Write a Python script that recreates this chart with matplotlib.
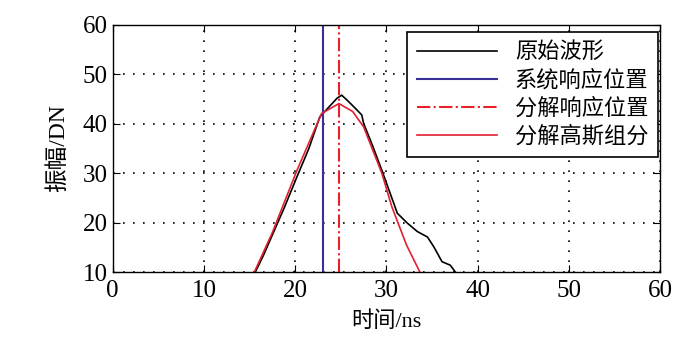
import matplotlib
matplotlib.use("Agg")
import matplotlib.pyplot as plt

plt.rcParams['font.family'] = ['Liberation Serif', 'Noto Sans CJK SC']

# raw waveform (ns, DN)
wave_t = [15.6, 16.5, 17.4, 18.8, 20.2, 21.5, 22.7, 23.8, 24.6, 25.1, 25.8,
          26.4, 27.3, 27.5, 28.5, 29.5, 30.4, 31.2, 32.3, 33.4, 34.5,
          35.2, 36.1, 37.0, 37.6]
wave_a = [9.9, 13.3, 17.1, 23.0, 29.3, 35.0, 41.4, 43.6, 45.2, 45.8, 44.6,
          43.5, 41.8, 40.1, 35.5, 30.6, 26.0, 21.9, 19.9, 18.2, 17.1,
          15.1, 12.1, 11.4, 9.9]

# decomposed gaussian component
gauss_t = [15.5, 17.5, 20.2, 22.9, 24.8, 26.3, 27.5, 29.5, 30.6, 32.2, 33.7]
gauss_a = [9.9, 18.0, 30.6, 42.1, 44.1, 42.5, 39.4, 30.0, 23.2, 15.5, 9.9]

sys_pos = 23.1
dec_pos = 24.8

fig = plt.figure(figsize=(7, 3.52), dpi=100)
ax = fig.add_axes([0.161, 0.227, 0.782, 0.702])

ax.plot(wave_t, wave_a, color='black', lw=1.2, label='原始波形')
ax.axvline(sys_pos, color='#3a2f94', lw=1.5, label='系统响应位置')
ax.axvline(dec_pos, color='#e8202a', lw=1.5, ls='-.', label='分解响应位置')
ax.plot(gauss_t, gauss_a, color='#e02030', lw=1.2, label='分解高斯组分')

ax.set_xlim(0, 60)
ax.set_ylim(10, 60)
ax.set_xticks(range(0, 61, 10))
ax.set_yticks(range(10, 61, 10))
ax.grid(True, color='black', ls=(0, (1, 5)), lw=1.2)
ax.tick_params(direction='in', top=True, right=True, labelsize=18, length=5)
ax.tick_params(axis='x', pad=6)
for s in ax.spines.values():
    s.set_linewidth(1)

ax.set_xlabel('时间/ns', fontsize=16, labelpad=6)
ax.set_ylabel('振幅/DN', fontsize=17, labelpad=10)

leg = ax.legend(loc='upper right', bbox_to_anchor=(0.997, 0.97), fontsize=16,
                frameon=True, fancybox=False, edgecolor='black', framealpha=1,
                borderaxespad=0, handlelength=3.6, labelspacing=0.3,
                borderpad=0.45)
leg.get_frame().set_linewidth(1.2)

fig.savefig('out.png', dpi=100)
